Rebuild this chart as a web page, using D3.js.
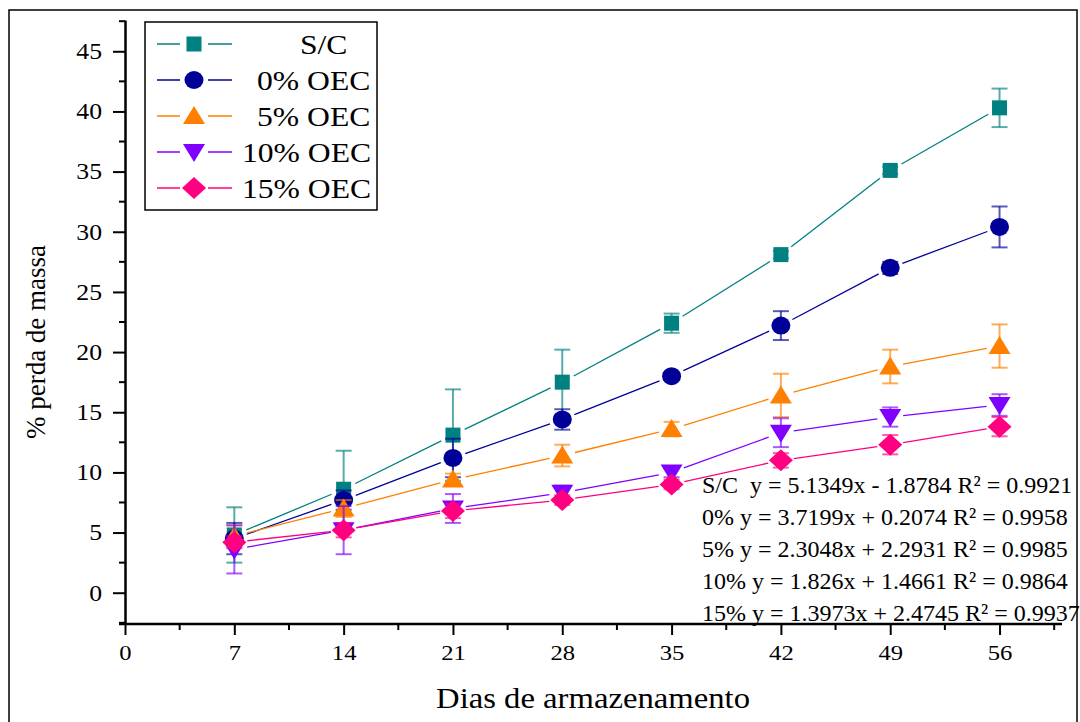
<!DOCTYPE html>
<html>
<head>
<meta charset="utf-8">
<script src="https://cdn.jsdelivr.net/npm/d3@7"></script>
<style>
  body { margin: 0; background: #fff; }
  svg text { font-family: "Liberation Serif", "Times New Roman", serif; }
</style>
</head>
<body>
<svg id="chart" width="1080" height="722"></svg>
<script>
// storage days
const days = [7, 14, 21, 28, 35, 42, 49, 56];

// % mass loss per treatment, with error bars
const seriesNames = ["S/C", "0% OEC", "5% OEC", "10% OEC", "15% OEC"];
const scMean  = [4.8, 8.6, 13.1, 17.5, 22.4, 28.1, 35.1, 40.3];
const scErr   = [2.3, 3.2, 3.8, 2.7, 0.8, 0.3, 0.3, 1.6];
const oec0    = [4.5, 7.7, 11.2, 14.4, 18.0, 22.2, 27.0, 30.4];
const oec0Err = [1.3, 0.8, 1.6, 0.85, 0.3, 1.2, 0.5, 1.7];
const oec5    = [4.7, 7.0, 9.4, 11.4, 13.6, 16.4, 18.8, 20.5];
const oec5Err = [0.9, 0.7, 0.5, 0.9, 0.6, 1.8, 1.4, 1.8];
const oec10    = [3.6, 5.2, 7.0, 8.3, 10.0, 13.3, 14.6, 15.6];
const oec10Err = [2.0, 2.0, 1.2, 0.6, 0.4, 1.2, 0.8, 0.9];
const oec15    = [4.2, 5.2, 6.8, 7.7, 9.0, 11.0, 12.3, 13.8];
const oec15Err = [0.5, 0.6, 0.6, 0.4, 0.4, 0.6, 0.8, 0.8];

const equations = [
  "S/C  y = 5.1349x - 1.8784 R\u00B2 = 0.9921",
  "0% y = 3.7199x + 0.2074 R\u00B2 = 0.9958",
  "5% y = 2.3048x + 2.2931 R\u00B2 = 0.9985",
  "10% y = 1.826x + 1.4661 R\u00B2 = 0.9864",
  "15% y = 1.3973x + 2.4745 R\u00B2 = 0.9937"
];

const xMajor = [0, 7, 14, 21, 28, 35, 42, 49, 56];
const xMinor = [3.5, 10.5, 17.5, 24.5, 31.5, 38.5, 45.5, 52.5, 59.5];
const yMajor = [0, 5, 10, 15, 20, 25, 30, 35, 40, 45];
const yMinor = [-2.5, 2.5, 7.5, 12.5, 17.5, 22.5, 27.5, 32.5, 37.5, 42.5, 47.5];

const colors = ["#008080", "#000099", "#ff8000", "#8000ff", "#ff0080"];
const symbols = ["square", "circle", "up", "down", "diamond"];

const series = [
  { name: seriesNames[0], vals: scMean, err: scErr },
  { name: seriesNames[1], vals: oec0, err: oec0Err },
  { name: seriesNames[2], vals: oec5, err: oec5Err },
  { name: seriesNames[3], vals: oec10, err: oec10Err },
  { name: seriesNames[4], vals: oec15, err: oec15Err }
].map((s, i) => ({ ...s, color: colors[i], sym: symbols[i] }));

const serif = "'Liberation Serif', 'Times New Roman', serif";
// the original text is a little wider than Liberation Serif
const stretch = 1.12;

const svg = d3.select("#chart");

// outer frame
svg.append("rect")
  .attr("x", 9).attr("y", 10)
  .attr("width", 1068).attr("height", 720)
  .attr("fill", "none").attr("stroke", "#000").attr("stroke-width", 1.5);

const x = d3.scaleLinear().domain([0, 60]).range([125, 1062]);
const y = d3.scaleLinear().domain([-2.6, 47.6]).range([624, 20]);

// draw a marker symbol centred at 0,0
function marker(g, sym, color) {
  if (sym === "square") {
    g.append("rect").attr("x", -7.5).attr("y", -7.5).attr("width", 15).attr("height", 15).attr("fill", color);
  } else if (sym === "circle") {
    g.append("ellipse").attr("rx", 9.5).attr("ry", 9).attr("fill", color);
  } else if (sym === "up") {
    g.append("path").attr("d", "M0,-10L11,8L-11,8Z").attr("fill", color);
  } else if (sym === "down") {
    g.append("path").attr("d", "M0,10L11,-8L-11,-8Z").attr("fill", color);
  } else {
    g.append("path").attr("d", "M0,-11L12,0L0,11L-12,0Z").attr("fill", color);
  }
}

// text stretched horizontally around its own anchor point
function wideText(parent, tx, ty, str, size, sx) {
  return parent.append("text")
    .attr("transform", `translate(${tx},${ty}) scale(${sx},1)`)
    .style("font-size", size + "px")
    .text(str);
}

// axes
const xAxis = svg.append("g")
  .attr("transform", `translate(0,${y(-2.6)})`)
  .call(d3.axisBottom(x).tickValues(xMajor).tickSize(11).tickSizeOuter(0).tickPadding(9));
xAxis.attr("font-family", serif).attr("font-size", null);
xAxis.selectAll("text").style("font-size", "22px").attr("fill", "#000")
  .attr("transform", `scale(${stretch},1)`);
xAxis.append("g").selectAll("line").data(xMinor).join("line")
  .attr("x1", d => x(d)).attr("x2", d => x(d)).attr("y1", 0).attr("y2", 6)
  .attr("stroke", "#000").attr("stroke-width", 2);

const yAxis = svg.append("g")
  .attr("transform", `translate(${x(0)},0)`)
  .call(d3.axisLeft(y).tickValues(yMajor).tickSize(12).tickSizeOuter(0).tickPadding(11));
yAxis.attr("font-family", serif).attr("font-size", null);
yAxis.selectAll("text").style("font-size", "23px").attr("fill", "#000")
  .attr("x", -23 / stretch)
  .attr("transform", `scale(${stretch},1)`);
yAxis.append("g").selectAll("line").data(yMinor).join("line")
  .attr("y1", d => y(d)).attr("y2", d => y(d)).attr("x1", 0).attr("x2", -6)
  .attr("stroke", "#000").attr("stroke-width", 2);

svg.selectAll(".domain").attr("stroke-width", 2.5);
svg.selectAll(".tick line").attr("stroke-width", 2);
xAxis.select(".domain").attr("d", `M${x(0) - 6},0H${x(60)}`);

// axis titles
wideText(svg, 593, 708, "Dias de armazenamento", 30, 1.09).attr("text-anchor", "middle");

svg.append("text")
  .attr("transform", `translate(45,342) rotate(-90)`)
  .attr("text-anchor", "middle")
  .style("font-size", "27px")
  .text("% perda de massa");

// series: connecting lines with gaps, error bars, markers
const gap = 13;
series.forEach(s => {
  const g = svg.append("g");
  const pts = s.vals.map((v, i) => [x(days[i]), y(v)]);
  for (let i = 0; i < pts.length - 1; i++) {
    const [x1, y1] = pts[i], [x2, y2] = pts[i + 1];
    const len = Math.hypot(x2 - x1, y2 - y1);
    const ux = (x2 - x1) / len, uy = (y2 - y1) / len;
    g.append("line")
      .attr("x1", x1 + ux * gap).attr("y1", y1 + uy * gap)
      .attr("x2", x2 - ux * gap).attr("y2", y2 - uy * gap)
      .attr("stroke", s.color).attr("stroke-width", 1.3);
  }
  const eb = g.append("g").attr("stroke", s.color).attr("stroke-opacity", 0.65).attr("stroke-width", 2);
  s.vals.forEach((v, i) => {
    const cx = x(days[i]);
    const top = y(v + s.err[i]), bot = y(v - s.err[i]);
    eb.append("line").attr("x1", cx).attr("x2", cx).attr("y1", top).attr("y2", bot);
    eb.append("line").attr("x1", cx - 8).attr("x2", cx + 8).attr("y1", top).attr("y2", top);
    eb.append("line").attr("x1", cx - 8).attr("x2", cx + 8).attr("y1", bot).attr("y2", bot);
  });
  s.vals.forEach((v, i) => {
    marker(g.append("g").attr("transform", `translate(${x(days[i])},${y(v)})`), s.sym, s.color);
  });
});

// legend
const leg = svg.append("g");
leg.append("rect")
  .attr("x", 145).attr("y", 22).attr("width", 232).attr("height", 188)
  .attr("fill", "#fff").attr("stroke", "#000").attr("stroke-width", 1.5);
const legTextX = [300, 257, 257, 242, 242];
series.forEach((s, i) => {
  const ry = 44 + i * 36;
  leg.append("line").attr("x1", 157).attr("x2", 232).attr("y1", ry).attr("y2", ry)
    .attr("stroke", s.color).attr("stroke-width", 1.3);
  leg.append("rect").attr("x", 180).attr("y", ry - 10).attr("width", 28).attr("height", 20).attr("fill", "#fff");
  marker(leg.append("g").attr("transform", `translate(194,${ry})`), s.sym, s.color);
  wideText(leg, legTextX[i], ry + 10, s.name.replace(" ", "\u00A0"), 28, 1.13);
});

// regression equations
equations.forEach((eq, i) => {
  wideText(svg, 702, 493 + i * 32, eq.replace("  ", "\u00A0 "), 24, 1.0);
});

svg.selectAll("text").style("font-family", serif);
</script>
</body>
</html>
